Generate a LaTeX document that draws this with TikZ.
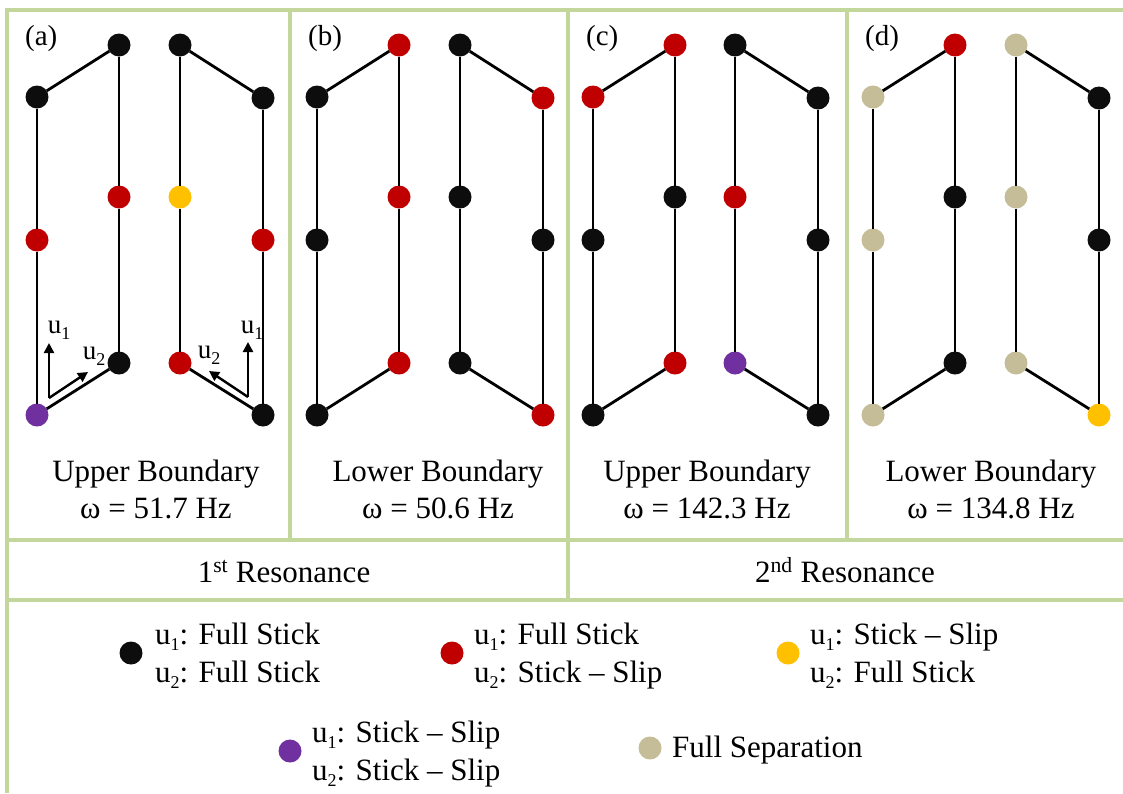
\documentclass[tikz,border=0pt]{standalone}
\usepackage{fontspec}
\setmainfont{Liberation Serif}
\usetikzlibrary{arrows.meta}
\definecolor{gridg}{HTML}{C3D69B}
\definecolor{cblack}{HTML}{0D0D0D}
\definecolor{cred}{HTML}{C00000}
\definecolor{cyellow}{HTML}{FFC000}
\definecolor{cpurple}{HTML}{7030A0}
\definecolor{ctan}{HTML}{C4BD97}
\newcommand{\lsub}[1]{\raisebox{-0.22em}{\fontsize{18}{20}\selectfont #1}}
\tikzset{
  dot/.style={circle, fill=#1, minimum size=23pt, inner sep=0pt, outer sep=0pt},
  bar/.style={line width=2.8pt, draw=black},
  gridline/.style={line width=3.5pt, draw=gridg},
  maintext/.style={font=\fontsize{31}{37}\selectfont, inner sep=0pt, anchor=base},
  legtext/.style={font=\fontsize{31}{37}\selectfont, inner sep=0pt, anchor=base west},
  paneltag/.style={font=\fontsize{29}{34}\selectfont, inner sep=0pt, anchor=base west},
  ulabel/.style={font=\fontsize{27}{30}\selectfont, inner sep=0pt},
  uarrow/.style={line width=2.4pt, draw=black, -{Triangle[length=10pt,width=10pt]}},
}
\newcommand{\lframe}[8]{%
  \node[dot=#3] (#1tr) at (#2+82,45) {};
  \node[dot=#4] (#1ul) at (#2,97) {};
  \node[dot=#5] (#1lm) at (#2,240) {};
  \node[dot=#6] (#1rm) at (#2+82,197) {};
  \node[dot=#7] (#1br) at (#2+82,363) {};
  \node[dot=#8] (#1bl) at (#2,415) {};
  \draw[bar] (#1ul) -- (#1tr);
  \draw[bar] (#1tr) -- (#1rm);
  \draw[bar] (#1rm) -- (#1br);
  \draw[bar] (#1ul) -- (#1lm);
  \draw[bar] (#1lm) -- (#1bl);
  \draw[bar] (#1bl) -- (#1br);
}
\newcommand{\rframe}[8]{%
  \node[dot=#3] (#1tl) at (#2,45) {};
  \node[dot=#4] (#1ur) at (#2+83,98) {};
  \node[dot=#5] (#1lm) at (#2,197) {};
  \node[dot=#6] (#1rm) at (#2+83,240) {};
  \node[dot=#7] (#1bl) at (#2,363) {};
  \node[dot=#8] (#1br) at (#2+83,415) {};
  \draw[bar] (#1tl) -- (#1ur);
  \draw[bar] (#1tl) -- (#1lm);
  \draw[bar] (#1lm) -- (#1bl);
  \draw[bar] (#1ur) -- (#1rm);
  \draw[bar] (#1rm) -- (#1br);
  \draw[bar] (#1bl) -- (#1br);
}
\begin{document}
\begin{tikzpicture}[x=1pt,y=-1pt]
\useasboundingbox[fill=white] (0,0) rectangle (1123,793);
% grid
\draw[gridline] (5,10) -- (1123,10);
\draw[gridline] (7,10) -- (7,793);
\draw[gridline] (290,10) -- (290,540);
\draw[gridline] (568,10) -- (568,600);
\draw[gridline] (847,10) -- (847,540);
\draw[gridline] (7,540) -- (1123,540);
\draw[gridline] (7,600) -- (1123,600);
% panel tags
\node[paneltag] (ta) at (25,45) {(a)};
\node[paneltag] (tb) at (308,45) {(b)};
\node[paneltag] (tc) at (586,45) {(c)};
\node[paneltag] (td) at (865,45) {(d)};
% frames
\lframe{aL}{37}{cblack}{cblack}{cred}{cred}{cblack}{cpurple}
\rframe{aR}{180}{cblack}{cblack}{cyellow}{cred}{cred}{cblack}
\lframe{bL}{317}{cred}{cblack}{cblack}{cred}{cred}{cblack}
\rframe{bR}{460}{cblack}{cred}{cblack}{cblack}{cblack}{cred}
\lframe{cL}{593}{cred}{cred}{cblack}{cblack}{cred}{cblack}
\rframe{cR}{735}{cblack}{cblack}{cred}{cblack}{cpurple}{cblack}
\lframe{dL}{873}{cred}{ctan}{ctan}{cblack}{cblack}{ctan}
\rframe{dR}{1016}{ctan}{cblack}{ctan}{cblack}{ctan}{cyellow}
% direction arrows in (a)
\coordinate (oL) at (49,398);
\coordinate (u1L) at (49,343);
\coordinate (u2L) at (88,372);
\draw[uarrow] (oL) -- (u1L);
\draw[uarrow] (oL) -- (u2L);
\node[ulabel] (lu1L) at (59,330) {u\lsub{1}};
\node[ulabel] (lu2L) at (94,356) {u\lsub{2}};
\coordinate (oR) at (248,397);
\coordinate (u1R) at (248,342);
\coordinate (u2R) at (209,371);
\draw[uarrow] (oR) -- (u1R);
\draw[uarrow] (oR) -- (u2R);
\node[ulabel] (lu1R) at (252,330) {u\lsub{1}};
\node[ulabel] (lu2R) at (209,355) {u\lsub{2}};
% captions
\node[maintext] (capa1) at (156,481) {Upper Boundary};
\node[maintext] (capa2) at (156,518) {ω = 51.7 Hz};
\node[maintext] (capb1) at (438,481) {Lower Boundary};
\node[maintext] (capb2) at (438,518) {ω = 50.6 Hz};
\node[maintext] (capc1) at (707,481) {Upper Boundary};
\node[maintext] (capc2) at (707,518) {ω = 142.3 Hz};
\node[maintext] (capd1) at (991,481) {Lower Boundary};
\node[maintext] (capd2) at (991,518) {ω = 134.8 Hz};
% resonance row
\node[maintext] (res1) at (284,582) {1\textsuperscript{st} Resonance};
\node[maintext] (res2) at (845,582) {2\textsuperscript{nd} Resonance};
% legend
\node[dot=cblack] (lgk) at (131,653) {};
\node[legtext] (lgk1) at (155,644) {u\lsub{1}: Full Stick};
\node[legtext] (lgk2) at (155,682) {u\lsub{2}: Full Stick};
\node[dot=cred] (lgr) at (452,653) {};
\node[legtext] (lgr1) at (474,644) {u\lsub{1}: Full Stick};
\node[legtext] (lgr2) at (474,682) {u\lsub{2}: Stick – Slip};
\node[dot=cyellow] (lgy) at (788,653) {};
\node[legtext] (lgy1) at (810,644) {u\lsub{1}: Stick – Slip};
\node[legtext] (lgy2) at (810,682) {u\lsub{2}: Full Stick};
\node[dot=cpurple] (lgp) at (290,751) {};
\node[legtext] (lgp1) at (312,742) {u\lsub{1}: Stick – Slip};
\node[legtext] (lgp2) at (312,780) {u\lsub{2}: Stick – Slip};
\node[dot=ctan] (lgt) at (650,748) {};
\node[legtext] (lgt1) at (672,757) {Full Separation};
\end{tikzpicture}
\end{document}
